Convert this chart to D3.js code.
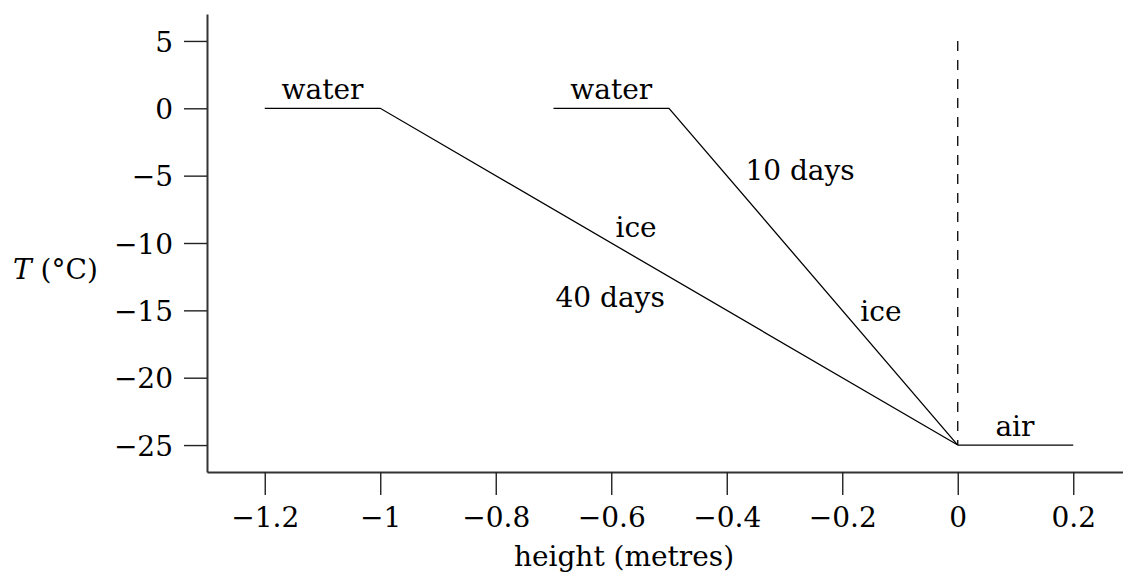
<!DOCTYPE html>
<html>
<head>
<meta charset="utf-8">
<script src="https://cdn.jsdelivr.net/npm/d3@7"></script>
<style>
  html, body { margin: 0; padding: 0; background: #fff; }
  svg { display: block; }
  text { font-family: "DejaVu Serif", serif; fill: #000; }
</style>
</head>
<body>
<svg id="chart" width="1123" height="574"></svg>
<script>
// ---- data ----
const xTicks = [-1.2, -1, -0.8, -0.6, -0.4, -0.2, 0, 0.2];
const yTicks = [5, 0, -5, -10, -15, -20, -25];
const profile40X = [-1.2, -1, 0];
const profile40T = [0, 0, -25];
const profile10X = [-0.7, -0.5, 0];
const profile10T = [0, 0, -25];
const airX = [0, 0.2];
const airT = [-25, -25];
const surfaceX = [0, 0];
const surfaceT = [5, -25];
const labelText = ["water", "water", "10 days", "ice", "40 days", "ice", "air"];
const labelX = [-1.1, -0.6, -0.273, -0.557, -0.602, -0.133, 0.099];
const labelT = [0.69, 0.69, -5.32, -9.53, -14.73, -15.77, -24.33];

// ---- layout ----
const svg = d3.select("#chart");
const fs = 28;
const FONT = '"DejaVu Serif", serif';
const x = d3.scaleLinear().domain([-1.3, 0.3]).range([207, 1131]);
const y = d3.scaleLinear().domain([-27, 7]).range([472, 14]);
const fmt = d => String(d).replace("-", "\u2212");

// axes
const gx = svg.append("g").attr("transform", `translate(0,${y(-27)})`)
  .call(d3.axisBottom(x).tickValues(xTicks).tickFormat(fmt).tickSize(23).tickSizeOuter(0).tickPadding(10));
const gy = svg.append("g").attr("transform", `translate(${x(-1.3)},0)`)
  .call(d3.axisLeft(y).tickValues(yTicks).tickFormat(fmt).tickSize(23).tickSizeOuter(0).tickPadding(11));
[gx, gy].forEach(g => {
  g.attr("font-family", null).attr("font-size", null);
  g.select(".domain").attr("stroke", "#333").attr("stroke-width", 2);
  g.selectAll(".tick line").attr("stroke", "#222").attr("stroke-width", 1.4);
  g.selectAll(".tick text").style("font-size", fs + "px")
    .style("font-family", FONT).attr("fill", "#000");
});
gx.selectAll(".tick text").attr("dy", "0.78em");
gy.selectAll(".tick text").attr("dy", "0.36em");

// lines
const line = d3.line().x(d => x(d[0])).y(d => y(d[1]));
const zip = (a, b) => a.map((v, i) => [v, b[i]]);
[[profile40X, profile40T], [profile10X, profile10T], [airX, airT]].forEach(([a, b]) => {
  svg.append("path").attr("d", line(zip(a, b)))
    .attr("fill", "none").attr("stroke", "#000").attr("stroke-width", 1.3);
});
svg.append("path").attr("d", line(zip(surfaceX, surfaceT)))
  .attr("fill", "none").attr("stroke", "#000").attr("stroke-width", 1.3)
  .attr("stroke-dasharray", "10,9");

// annotations
svg.append("g").selectAll("text").data(labelText).join("text")
  .attr("x", (d, i) => x(labelX[i]))
  .attr("y", (d, i) => y(labelT[i]))
  .attr("text-anchor", "middle")
  .style("font-family", FONT)
  .style("font-size", fs + "px")
  .text(d => d);

// axis titles
svg.append("text").attr("x", 624).attr("y", 566).attr("text-anchor", "middle")
  .style("font-family", FONT).style("font-size", fs + "px").text("height (metres)");
const yl = svg.append("text").attr("x", 13).attr("y", 279)
  .style("font-family", FONT).style("font-size", fs + "px");
yl.append("tspan").style("font-style", "italic").text("T");
yl.append("tspan").text(" (\u00B0C)");
</script>
</body>
</html>
